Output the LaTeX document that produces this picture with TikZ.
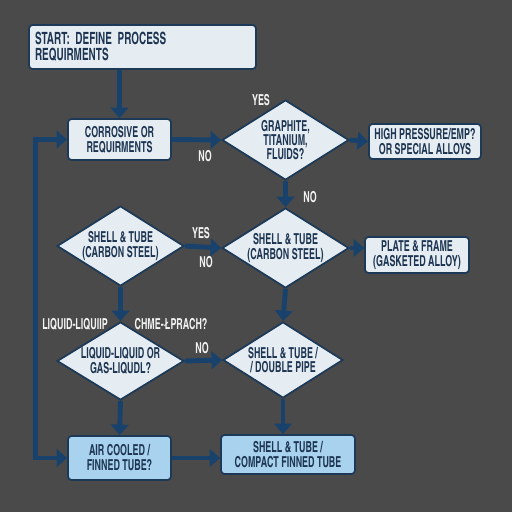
\documentclass[tikz,border=0pt]{standalone}
\usepackage{fontspec}
\newfontfamily\condfont{texgyreheroscn-bold.otf}[FakeStretch=0.72]
\usetikzlibrary{shapes.geometric,arrows.meta}
\definecolor{bgcol}{HTML}{4A4A4A}
\definecolor{boxfill}{HTML}{E6EDF2}
\definecolor{boxline}{HTML}{1C3A58}
\definecolor{flowcol}{HTML}{18426B}
\definecolor{txtcol}{HTML}{1D3552}
\definecolor{bluefill}{HTML}{A8D2EE}
\definecolor{tagcol}{HTML}{F2F2F2}
\tikzset{
    procbox/.style={rectangle, rounded corners=2pt, draw=boxline, line width=1pt,
        fill=boxfill, text=txtcol, align=center, inner sep=0pt,
        font=\condfont\fontsize{8.6}{8.6}\selectfont},
    decision/.style={diamond, aspect=1.6, draw=boxline, line width=1pt,
        fill=boxfill, text=txtcol, align=center, inner sep=0pt,
        minimum width=2.54cm, minimum height=1.6cm,
        font=\condfont\fontsize{8.6}{8.2}\selectfont},
    flow/.style={draw=flowcol, line width=2.8pt, -{Triangle[length=6pt,width=10pt]}},
    tag/.style={text=tagcol, inner sep=0pt, font=\condfont\fontsize{8.6}{8.6}\selectfont}
}
\begin{document}
\begin{tikzpicture}[x=0.02cm, y=-0.02cm]
    % Background
    \fill[bgcol] (0,0) rectangle (512,512);
    % Boxes
    \node[procbox, align=left, text width=4.3cm, inner xsep=0.12cm, minimum height=0.88cm,
        font=\condfont\fontsize{9.6}{9.2}\selectfont] (start) at (142.5,47)
        {START: DEFINE PROCESS\\REQUIRMENTS};
    \node[procbox, minimum width=2.06cm, minimum height=0.82cm] (corr) at (119.5,139.5)
        {CORROSIVE OR\\REQUIRMENTS};
    \node[procbox, minimum width=2.24cm, minimum height=0.7cm] (high) at (425,141.5)
        {HIGH PRESSURE/EMP?\\OR SPECIAL ALLOYS};
    \node[procbox, minimum width=2.08cm, minimum height=0.72cm] (plate) at (417,255)
        {PLATE \& FRAME\\(GASKETED ALLOY)};
    \node[procbox, fill=bluefill, minimum width=2.06cm, minimum height=0.88cm] (air) at (119.5,458)
        {AIR COOLED /\\FINNED TUBE?};
    \node[procbox, fill=bluefill, minimum width=2.68cm, minimum height=0.78cm] (compact) at (288,454.5)
        {SHELL \& TUBE /\\COMPACT FINNED TUBE};
    % Decisions
    \node[decision] (gra) at (285.5,140) {GRAPHITE,\\TITANIUM,\\FLUIDS?};
    \node[decision] (stl) at (120.5,246) {SHELL \& TUBE\\(CARBON STEEL)};
    \node[decision] (stm) at (285.5,248) {SHELL \& TUBE\\(CARBON STEEL)};
    \node[decision, minimum height=1.56cm] (liq) at (120.5,361) {LIQUID-LIQUID OR\\GAS-LIQUDL?};
    \node[decision, minimum width=2.4cm, minimum height=1.52cm] (dbl) at (283,360) {SHELL \& TUBE /\\/ DOUBLE PIPE};
    % Connectors
    \draw[flow] (corr.north |- start.south) -- (corr.north);
    \draw[flow] (corr.east) -- (gra.west);
    \draw[flow] (gra.east) -- (high.west);
    \draw[flow] (gra.south) -- (stm.north);
    \draw[flow] (stl.east) -- (stm.west);
    \draw[flow] (stm.east) -- (stm.east -| plate.west);
    \draw[flow] (stl.south) -- (liq.north);
    \draw[flow] (stm.south) -- (dbl.north);
    \draw[flow] (liq.east) -- (dbl.west);
    \draw[flow] (liq.south) -- (air.north);
    \draw[flow] (dbl.south) -- (dbl.south |- compact.north);
    \draw[flow] (air.east) -- (air.east -| compact.west);
    \draw[flow, {Triangle[length=6pt,width=10pt]}-{Triangle[length=6pt,width=10pt]}]
        (air.west) -- ++(-32,0) |- (corr.west);
    % Labels
    \node[tag] (yes1) at (261,100) {YES};
    \node[tag] (no1) at (205,156) {NO};
    \node[tag] (no2) at (310,197) {NO};
    \node[tag] (yes2) at (201,233) {YES};
    \node[tag] (no3) at (206,262) {NO};
    \node[tag] (ll) at (75,324) {LIQUID-LIQUIIP};
    \node[tag] (ch) at (171,324) {CHME-ŁPRACH?};
    \node[tag] (no4) at (202,348) {NO};
\end{tikzpicture}
\end{document}
